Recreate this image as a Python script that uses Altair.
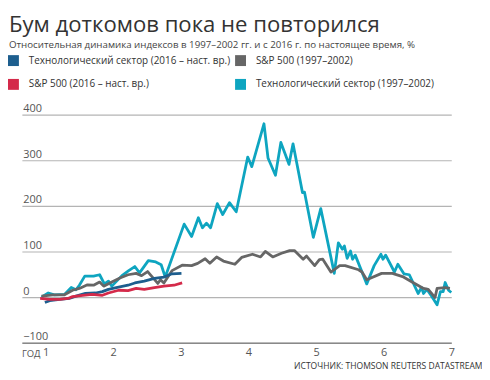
import altair as alt
import pandas as pd

# ---- data ----
teal_x = [0.94,1.04,1.13,1.28,1.38,1.45,1.50,1.58,1.71,1.80,1.87,1.93,1.98,2.13,2.23,2.32,2.39,2.52,2.63,2.71,
          2.77,3.05,3.16,3.26,3.32,3.38,3.44,3.54,3.62,3.72,3.82,3.99,4.05,4.23,4.29,4.40,4.48,4.60,4.66,4.80,
          4.83,4.96,5.07,5.27,5.33,5.39,5.42,5.46,5.51,5.54,5.58,5.75,5.86,5.96,5.99,6.03,6.16,6.21,6.30,6.38,
          6.51,6.56,6.59,6.64,6.71,6.79,6.84,6.88,6.91,6.96,7.00]
teal_y = [0,9,5,6,21,16,26,46,46,49,29,35,24,47,58,67,53,80,77,71,
          44,160,133,174,152,162,152,205,181,207,187,307,286,380,305,267,339,291,336,229,
          230,131,194,52,119,105,112,85,101,83,92,29,69,94,83,92,55,72,51,49,
          8,21,8,17,2,-17,12,12,32,15,10]

gray_x = [0.94,1.11,1.28,1.40,1.50,1.62,1.71,1.80,1.86,1.98,2.10,2.22,2.34,2.42,2.51,2.66,2.70,2.75,2.87,3.02,
          3.16,3.25,3.36,3.43,3.53,3.63,3.80,3.90,4.06,4.18,4.25,4.36,4.49,4.61,4.68,4.81,4.86,4.98,5.05,5.10,
          5.22,5.35,5.43,5.63,5.68,5.75,5.97,6.13,6.28,6.42,6.59,6.66,6.76,6.79,6.91,6.98]
gray_y = [2,5,5,15,19,27,26,33,24,33,42,49,52,47,56,30,38,31,58,70,
          69,74,84,74,88,79,72,87,94,88,100,88,96,102,102,83,90,69,82,83,
          55,69,69,60,55,38,52,52,45,33,19,17,-1,19,21,19]

blue_x = [0.99,1.06,1.21,1.35,1.45,1.59,1.74,1.84,1.93,2.08,2.22,2.32,2.46,2.61,2.75,2.87,3.01]
blue_y = [-12,-8,-5,-3,2,8,9,12,17,22,26,31,35,41,44,51,52]

red_x = [0.92,1.06,1.21,1.33,1.40,1.55,1.69,1.84,1.93,2.08,2.22,2.34,2.46,2.61,2.75,2.90,3.02]
red_y = [-3,-5,-5,-3,1,4,6,4,9,15,14,19,17,21,24,26,31]

# legend order (column-major in a 2-column legend)
series_names = ["Технологический сектор (2016 – наст. вр.)", "S&P 500 (2016 – наст. вр.)",
                "S&P 500 (1997–2002)", "Технологический сектор (1997–2002)"]
series_colors = ["#1d5e8e", "#d42a4a", "#666666", "#0ea5c0"]
year_ticks = [1, 2, 3, 4, 5, 6, 7]
value_ticks = [-100, 0, 100, 200, 300, 400]

FONT = "Open Sans"

def frame(xs, ys, name):
    return pd.DataFrame({"year": xs, "value": ys, "series": name})

df_teal = frame(teal_x, teal_y, series_names[3])
df_gray = frame(gray_x, gray_y, series_names[2])
df_blue = frame(blue_x, blue_y, series_names[0])
df_red = frame(red_x, red_y, series_names[1])

W, H = 433, 230

x_enc = alt.X("year:Q", scale=alt.Scale(domain=[0.65, 7.0], nice=False, zero=False),
              axis=alt.Axis(values=year_ticks, format="d", grid=False, ticks=False, domain=True,
                            domainColor="#6f6f6f", domainWidth=1,
                            labelFont=FONT, labelFontSize=11, labelColor="#555555",
                            labelPadding=4, labelFlush=False,
                            title="ИСТОЧНИК: THOMSON REUTERS DATASTREAM",
                            titleFont=FONT, titleFontSize=8.6, titleFontWeight="normal",
                            titleColor="#333333", titleAlign="right", titleBaseline="top",
                            titleAnchor="end", titleX=W + 31, titleY=19))
y_enc = alt.Y("value:Q", scale=alt.Scale(domain=[-100, 400], nice=False),
              axis=alt.Axis(values=value_ticks, grid=True, gridColor="#b4b4b4", gridWidth=1.2,
                            ticks=False, domain=False, labelAlign="left", labelBaseline="bottom",
                            labelPadding=-1, labelOffset=-1, labelFont=FONT, labelFontSize=11,
                            labelColor="#555555", title=None))
color_enc = alt.Color("series:N",
                      scale=alt.Scale(domain=series_names, range=series_colors),
                      legend=alt.Legend(title=None, orient="none", legendX=-14, legendY=-60,
                                        columns=2, symbolType="square", symbolSize=25,
                                        symbolStrokeWidth=6, symbolOpacity=1,
                                        labelFont=FONT, labelFontSize=10, labelColor="#333333",
                                        labelOffset=10, rowPadding=-5, columnPadding=-5,
                                        labelLimit=300))

def line(df):
    return alt.Chart(df).mark_line(strokeWidth=2.8, strokeJoin="round").encode(
        x=x_enc, y=y_enc, color=color_enc)

god = alt.Chart(pd.DataFrame({"year": [0.65], "value": [-100], "t": ["ГОД"]})).mark_text(
    align="left", baseline="top", dy=6, font=FONT, fontSize=9.5, color="#555555"
).encode(x="year:Q", y="value:Q", text="t:N")

chart = alt.layer(line(df_teal), line(df_gray), line(df_blue), line(df_red), god).properties(
    width=W, height=H,
    padding={"left": 0, "top": 4, "right": 0, "bottom": 0},
    title=alt.TitleParams(
        text="Бум доткомов пока не повторился",
        subtitle="Относительная динамика индексов в 1997–2002 гг. и с 2016 г. по настоящее время, %",
        anchor="start", frame="group", dx=-13, offset=5,
        font=FONT, fontSize=22.3, fontWeight="normal", color="#333333",
        subtitleFont=FONT, subtitleFontSize=9.8, subtitleColor="#444444", subtitlePadding=4),
).configure_view(stroke=None)

chart.save("out.html", embed_options={"renderer": "svg", "actions": False})
